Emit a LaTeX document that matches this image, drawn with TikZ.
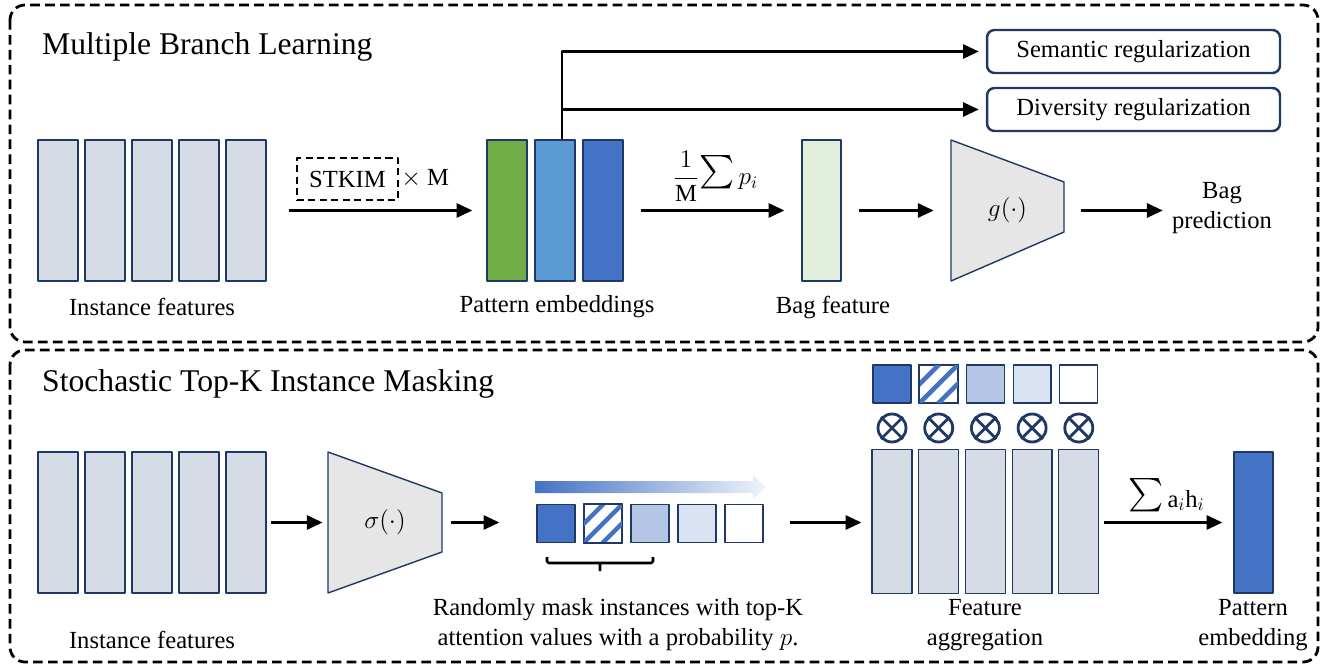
\documentclass[tikz,border=0pt]{standalone}
\usepackage{fontspec}
\setmainfont{Liberation Serif}
\usetikzlibrary{arrows.meta,positioning}
\definecolor{navy}{RGB}{31,56,100}
\definecolor{featgray}{RGB}{214,220,229}
\definecolor{trapgray}{RGB}{231,230,230}
\definecolor{pgreen}{RGB}{112,173,71}
\definecolor{plight}{RGB}{91,155,213}
\definecolor{pblue}{RGB}{68,114,196}
\definecolor{bagcol}{RGB}{226,239,218}
\definecolor{attc}{RGB}{180,199,231}
\definecolor{attd}{RGB}{218,227,243}
\newcommand{\bigsum}{\scalebox{1.9}{$\sum$}}
\begin{document}
\begin{tikzpicture}[x=0.02cm, y=-0.02cm, font=\rmfamily\fontsize{14}{17}\selectfont, line join=round,
	bar/.style={draw=navy, line width=0.7pt, minimum width=0.8cm, minimum height=2.82cm, inner sep=0pt},
	sq/.style={draw=navy, line width=0.7pt, minimum size=0.76cm, inner sep=0pt},
	arr/.style={-{Triangle[length=9pt,width=8pt]}, line width=1.5pt},
	panel/.style={dash pattern=on 5.5pt off 3pt, line width=1.6pt, rounded corners=0.3cm},
	regbox/.style={draw=navy, line width=1.4pt, rounded corners=0.15cm, minimum width=5.86cm, minimum height=0.86cm},
	trap/.style={draw=navy, line width=0.8pt, fill=trapgray},
	otimes/.style={circle, draw=navy, line width=1.6pt, minimum size=0.56cm, inner sep=0pt},
	ttl/.style={anchor=base west, font=\rmfamily\fontsize{18}{21}\selectfont}]
	\useasboundingbox (0,0) rectangle (1325,665);
	% panels
	\draw[panel] (10,5) rectangle (1318,342);
	\draw[panel] (10,350) rectangle (1318,662);
	\node[ttl] (t1) at (36,55) {Multiple Branch Learning};
	\node[ttl] (t2) at (36,392) {Stochastic Top-K Instance Masking};
	
	% multiple branch learning
	\foreach \i in {1,...,5} \node[bar, fill=featgray] (f\i) at ({11+47*\i},210.5) {};
	\node (flab) at (152,307) {Instance features};
	\foreach \i/\c/\x in {1/pgreen/507,2/plight/555,3/pblue/603} \node[bar, fill=\c] (p\i) at (\x,210.5) {};
	\node (plab) at (557,307) {Pattern embeddings};
	\node[bar, fill=bagcol, minimum width=0.78cm] (bag) at (821.5,210.5) {};
	\node (blab) at (833,307) {Bag feature};
	\draw[trap] (951,140) -- (1064,182) -- (1064,232) -- (951,281) -- cycle;
	\node[minimum width=2.26cm] (g) at (1007.5,210.5) {$g(\cdot)$};
	\node[align=center, inner sep=0pt] (pred) at (1222,208) {Bag\\prediction};
	\node[regbox] (sem) at (1133.5,51.5) {Semantic regularization};
	\node[regbox] (div) at (1133.5,109.5) {Diversity regularization};
	\node[draw, dash pattern=on 4pt off 2.5pt, line width=1.4pt, minimum width=2.02cm, minimum height=0.84cm, inner sep=0pt] (stkim) at (347.5,179) {STKIM};
	\node[right=1pt of stkim, inner sep=0pt] (xm) {$\times$ M};
	
	\draw[arr, shorten <=0.44cm, shorten >=0.28cm] (f5) -- (p1);
	\draw[arr, shorten >=0.14cm] ([xshift=0.14cm]p2.north) |- (sem);
	\draw[arr, shorten >=0.14cm] ([xshift=0.14cm]p2.north) |- (div);
	\draw[arr, shorten <=0.34cm, shorten >=0.34cm] (p3) -- node[above=1pt, xshift=0.06cm]{$\displaystyle\frac{1}{\mathrm{M}}$\bigsum$\,p_i$} (bag);
	\draw[arr, shorten <=0.34cm, shorten >=0.34cm] (bag) -- (g);
	\draw[arr, shorten <=0.34cm, shorten >=0.18cm] (g) -- (pred.west|-g);
	
	% stochastic top-k instance masking
	\foreach \i in {1,...,5} \node[bar, fill=featgray] (h\i) at ({11+47*\i},522.5) {};
	\node (hlab) at (152,640) {Instance features};
	\draw[trap] (328,452) -- (442,493) -- (442,552) -- (328,593) -- cycle;
	\node[minimum width=2.28cm] (sig) at (385,522.5) {$\sigma(\cdot)$};
	\shade[left color=pblue, right color=pblue!8] (535,481) -- (753,481) -- (753,475) -- (766,487) -- (753,499) -- (753,493) -- (535,493) -- cycle;
	\foreach \i/\c in {1/pblue,2/white,3/attc,4/attd,5/white} {
		\node[sq, fill=\c] (m\i) at ({556+47*(\i-1)},523.5) {};
		\node[sq, fill=\c] (w\i) at ({892+46.7*(\i-1)},384) {};
	}
	\foreach \s in {m2,w2} {
		\begin{scope}
		\clip (\s.south west) rectangle (\s.north east);
		\foreach \d in {-1,0,1} \draw[pblue, line width=2.6pt] ([xshift=\d*0.38cm]\s.south west) -- ([xshift=\d*0.38cm]\s.north east);
		\end{scope}
		\draw[navy, line width=0.7pt] (\s.south west) rectangle (\s.north east);
	}
	\draw[line width=1.5pt, rounded corners=1pt] (547,557) -- (547,563) -- (653,563) -- (653,557) (600,563) -- (600,571);
	\node[align=center] (mlab) at (618,625) {Randomly mask instances with top-K\\attention values with a probability $p$.};
	\foreach \i in {1,...,5} {
		\node[bar, fill=featgray, minimum height=2.88cm] (a\i) at ({892+46.7*(\i-1)},521.5) {};
		\node[otimes] (o\i) at ({892+46.7*(\i-1)},428) {};
		\draw[navy, line width=1.6pt] (o\i.north east) -- (o\i.south west) (o\i.north west) -- (o\i.south east);
	}
	\node[align=center] (alab) at (985,625) {Feature\\aggregation};
	\node[bar, fill=pblue, minimum width=0.78cm] (pe) at (1253.5,522.5) {};
	\node[align=center] (elab) at (1253,625) {Pattern\\embedding};
	
	\draw[arr, shorten <=0.08cm, shorten >=0.1cm] (h5) -- (sig);
	\draw[arr, shorten <=0.18cm, shorten >=0.74cm] (sig) -- (sig-|m1.west);
	\draw[arr, shorten <=0.52cm, shorten >=0.2cm] (m5.east|-sig) -- (sig-|a1.west);
	\draw[arr, shorten <=0.1cm, shorten >=0.22cm] (a5.east|-pe) -- node[above=2pt]{\bigsum\,$\mathrm{a}_i\mathrm{h}_i$} (pe);
\end{tikzpicture}
\end{document}
